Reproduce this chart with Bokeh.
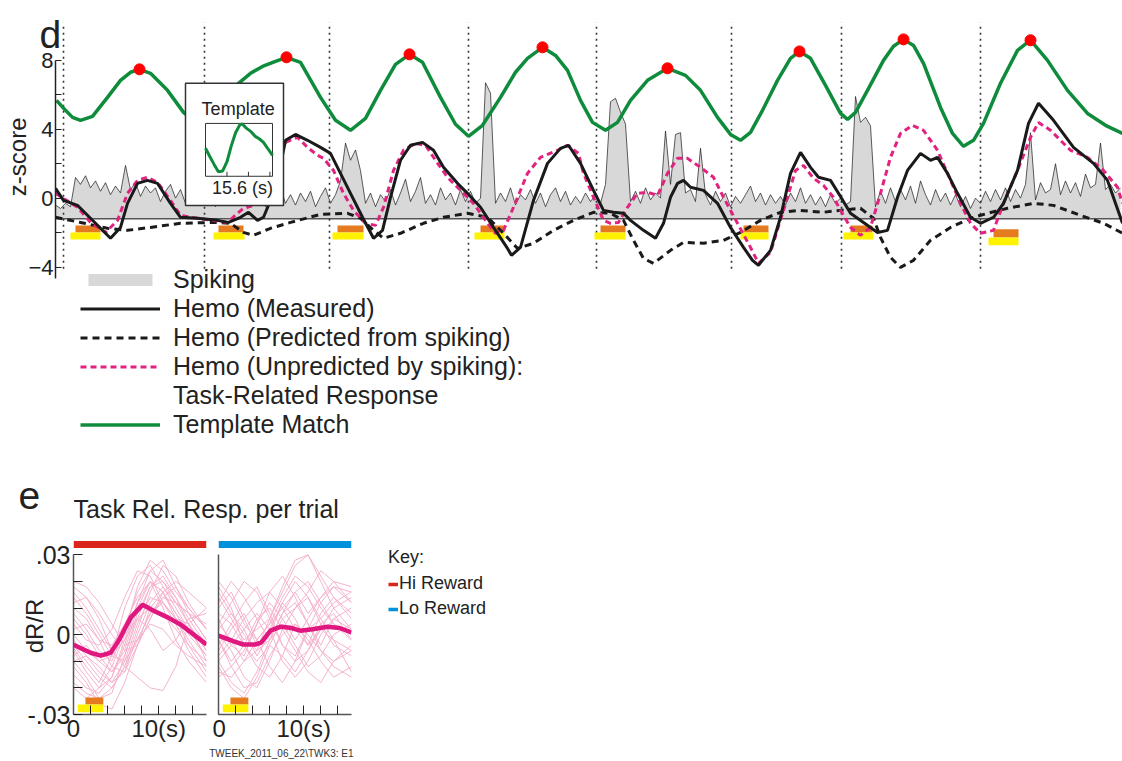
from bokeh.plotting import figure
from bokeh.models import Range1d, FixedTicker, Legend, LegendItem, Label, Title
from bokeh.layouts import column, row
from bokeh.core.properties import value
from bokeh.embed import file_html
from bokeh.resources import INLINE

FONT = "Liberation Sans"
INK = "#222222"

# ---------------- panel d data (time in s, z-score) ----------------
spike_baseline = -1.2
spike_dt = 0.5
spike_z = [
    -0.4, -0.6, -0.3, -0.5, 1.2, 0.8, 1.3, 0.6, 1.0, 0.4,
    0.9, 0.2, 0.7, 0.3, 1.9, 0.5, 0.9, 0.1, 0.7, 0.3,
    0.6, -0.2, 0.4, 0.8, 0.0, 0.5, -0.3, 0.2, -0.4, 0.1,
    -0.3, 0.3, -0.5, 0.2, -0.2, 0.4, -0.4, 0.1, -0.3, 0.5,
    -0.2, 0.3, -0.5, 0.4, -0.1, 0.6, -0.3, 0.2, -0.4, 0.3,
    -0.2, 0.4, -0.5, 0.1, 0.6, -0.3, 0.2, 1.0, 3.2, 2.2,
    2.8, 1.6, -0.3, 0.3, -0.5, 0.2, -0.2, 0.5, -0.4, 0.3,
    1.1, -0.2, 0.4, 1.2, -0.3, 0.2, -0.4, 0.6, -0.1, 0.3,
    -0.4, 0.5, -0.2, 0.4, -0.3, 0.0, 6.7, 6.1, -0.3, 0.3,
    -0.2, 0.6, -0.4, 0.2, -0.1, 0.5, -0.3, 0.3, -0.5, 0.2,
    0.6, -0.2, 0.4, -0.4, 0.1, -0.3, 0.3, -0.2, 0.2, -0.3,
    0.8, 5.6, 5.8, 5.0, 4.3, -0.2, 0.4, -0.3, 0.6, -0.1,
    0.3, 0.0, 3.9, 0.8, 3.7, 3.8, 0.3, 0.5, -0.2, 2.9,
    0.2, -0.4, 0.4, -0.2, 0.3, -0.5, 0.1, -0.3, 0.2, 0.7,
    -0.2, 0.3, -0.4, 0.2, -0.3, 0.1, -0.4, 0.3, -0.2, 0.6,
    -0.3, 0.2, -0.4, 0.1, -0.5, 0.2, -0.3, 0.0, -0.4, -0.2,
    5.9, 4.4, 4.7, 4.2, -0.5, 0.4, -0.3, 0.6, -0.2, 0.5,
    -0.1, 0.7, -0.3, 1.0, 0.2, -0.4, 0.5, -0.2, 0.3, -0.4,
    0.2, -0.5, 0.1, -0.6, 0.0, -0.3, 0.4, -0.2, 0.5, -0.1,
    0.6, -0.2, 0.5, 0.0, 0.8, 3.8, -0.1, 0.9, 0.3, 0.5,
    2.0, 0.2, 1.0, 0.3, 0.9, 0.1, 1.4, 0.6, 0.8, 3.2,
    0.5, 0.8, 0.3, 0.6,
]
spike_t = [i * spike_dt for i in range(len(spike_z))]

hemo_t = [0.0, 0.8, 2.2, 3.5, 4.5, 5.5, 6.5, 7.2, 8.2, 9.2, 10.2, 11.5, 12.5, 14.2, 16.2,
          17.3, 18.5, 19.3, 20.2, 20.8, 21.5, 22.3, 23.0, 24.0, 25.2, 26.5, 27.5, 28.5, 29.5,
          30.7, 31.8, 32.7, 33.5, 34.5, 35.5, 36.7, 37.8, 38.8, 40.2, 41.2, 42.5, 43.8, 45.2,
          45.6, 46.5, 47.8, 49.2, 50.5, 51.3, 52.5, 53.8, 54.8, 55.8, 56.8, 57.5, 58.8, 60.0,
          60.8, 61.5, 62.2, 62.8, 63.5, 64.8, 66.2, 67.5, 68.8, 69.7, 70.3, 71.5, 72.5, 73.5,
          74.5, 75.5, 76.3, 77.5, 78.5, 79.5, 80.8, 82.2, 83.2, 84.2, 85.2, 86.5, 87.5, 88.2,
          89.2, 90.2, 91.5, 92.5, 93.8, 94.8, 96.2, 97.3, 98.3, 99.8, 101.8, 103.8, 105.2, 106.7]
hemo_z = [0.57, -0.13, -0.42, -1.17, -1.75, -2.33, -1.70, -0.30, 0.86, 1.03, 0.86, -0.30, -1.11,
          -1.17, -1.29, -1.41, -1.11, -0.82, -1.29, -1.11, -0.13, 1.32, 3.36, 3.70, 3.36, 2.95,
          2.60, 1.44, 0.28, -1.11, -2.33, -1.87, 0.05, 2.20, 3.07, 3.24, 2.78, 1.79, 0.86, 0.28,
          -0.53, -1.70, -2.92, -3.32, -2.86, -0.13, 2.02, 2.89, 3.07, 2.02, 0.45, -0.71, -0.82,
          -0.88, -1.29, -1.87, -2.33, -1.46, 0.05, 0.86, 1.03, 0.63, 0.45, -0.30, -1.70, -2.86,
          -3.61, -3.90, -3.03, -1.11, 1.44, 2.66, 1.79, 1.21, 1.03, 0.10, -0.88, -1.41, -1.99,
          -1.87, 0.05, 1.61, 2.60, 2.20, 2.37, 1.44, 0.28, -1.11, -1.46, -1.11, -0.30, 1.61,
          4.34, 5.51, 4.52, 2.95, 2.02, 1.03, -1.46]

pred_t = [0.0, 2.5, 5.2, 7.2, 9.5, 12.5, 15.8, 17.5, 18.8, 19.8, 21.5, 23.5, 26.5, 29.2, 30.5,
          31.8, 32.8, 34.5, 36.8, 38.8, 41.2, 43.2, 44.8, 46.2, 47.8, 49.8, 51.8, 53.8, 55.5,
          56.8, 57.8, 58.8, 59.8, 61.5, 62.8, 64.8, 66.8, 68.5, 70.5, 72.5, 74.5, 76.8, 78.5,
          80.5, 81.8, 82.5, 83.5, 84.5, 85.8, 87.5, 89.5, 91.5, 93.2, 95.2, 97.8, 99.8, 102.5,
          104.8, 106.7]
pred_z = [-1.11, -1.41, -1.75, -1.87, -1.70, -1.46, -1.41, -1.46, -1.99, -2.16, -1.75, -1.41,
          -0.94, -0.88, -1.17, -1.87, -2.33, -2.04, -1.46, -1.11, -0.88, -1.11, -2.04, -2.92,
          -2.62, -1.87, -1.29, -0.82, -0.88, -1.29, -2.45, -3.50, -3.79, -3.03, -2.57, -2.62,
          -2.45, -1.99, -1.29, -0.82, -0.71, -0.82, -0.71, -0.59, -1.17, -2.28, -3.44, -4.02,
          -3.61, -2.45, -1.70, -1.17, -0.88, -0.59, -0.30, -0.42, -1.00, -1.46, -2.04]

unpred_t = [0.0, 2.2, 3.5, 5.0, 6.2, 7.2, 8.2, 9.2, 10.2, 11.5, 12.5, 14.2, 17.2, 18.2, 18.8,
            19.8, 20.8, 21.8, 23.0, 24.2, 25.2, 26.2, 26.8, 27.8, 28.8, 29.8, 31.0, 32.0, 32.8,
            33.8, 34.8, 36.0, 37.0, 38.0, 39.2, 40.5, 41.8, 43.2, 44.0, 44.8, 45.8, 47.2, 48.5,
            50.2, 51.2, 52.3, 52.8, 53.8, 54.8, 55.5, 56.3, 57.2, 58.2, 59.2, 60.2, 61.2, 62.2,
            63.2, 64.5, 65.8, 66.8, 68.2, 69.5, 70.3, 71.5, 72.8, 74.0, 74.8, 75.8, 76.8, 77.8,
            78.5, 79.5, 80.5, 81.5, 82.5, 83.5, 84.5, 85.7, 86.8, 88.2, 89.2, 90.5, 91.5, 92.5,
            93.8, 94.8, 96.2, 97.5, 98.3, 99.5, 101.5, 103.2, 104.8, 106.2, 106.7]
unpred_z = [0.28, -0.53, -1.41, -1.99, -1.29, 0.28, 1.03, 1.21, 0.92, -0.13, -1.00, -1.17, -1.41,
            -0.88, -0.59, -0.42, -0.01, 1.32, 3.24, 3.53, 2.95, 2.49, 2.31, 1.61, 0.28, -0.71,
            -1.46, -1.58, -0.53, 1.61, 2.78, 3.18, 3.07, 2.20, 1.21, 0.45, -0.30, -1.46, -2.04,
            -1.87, -0.53, 1.44, 2.37, 2.78, 3.07, 2.60, 1.44, 0.05, -1.29, -1.46, -1.41, -0.53,
            0.28, 0.34, 0.16, 1.44, 2.31, 2.31, 1.79, 1.21, 0.05, -1.46, -2.86, -3.79, -3.15,
            -0.71, 1.61, 1.90, 1.15, 0.74, 0.05, -0.71, -1.70, -2.16, -1.70, 0.28, 2.37, 3.76,
            4.23, 3.94, 2.78, 1.44, -0.30, -1.46, -2.04, -1.87, -0.30, 1.61, 3.53, 4.40, 3.94,
            2.78, 2.37, 1.61, 0.63, -0.30]

match_t = [0.1, 1.0, 1.7, 2.5, 3.7, 5.2, 6.5, 7.5, 8.4, 9.5, 11.2, 12.8, 14.0, 15.0, 16.0, 17.1,
           18.3, 19.5, 20.7, 22.0, 23.1, 24.5, 26.5, 28.0, 29.5, 31.0, 32.5, 34.0, 35.4, 36.7,
           38.5, 40.0, 41.3, 42.7, 44.5, 46.0, 47.2, 48.7, 50.0, 51.2, 52.5, 53.7, 55.0, 56.2,
           57.5, 59.2, 61.2, 63.0, 64.5, 66.2, 67.5, 68.5, 69.5, 70.7, 72.2, 73.5, 74.4, 75.5,
           77.0, 78.5, 79.2, 80.0, 81.2, 82.8, 83.8, 84.8, 85.8, 86.8, 88.5, 89.7, 90.8, 91.8,
           92.8, 94.5, 96.2, 97.5, 99.2, 101.2, 103.2, 105.0, 106.7]
match_z = [5.68, 5.10, 4.69, 4.52, 4.75, 5.85, 6.84, 7.31, 7.48, 7.25, 6.26, 4.98, 4.40, 4.23,
           4.63, 5.68, 6.67, 7.25, 7.65, 7.94, 8.18, 7.89, 5.85, 4.52, 3.94, 4.63, 6.26, 7.77,
           8.35, 7.89, 5.85, 4.29, 3.59, 4.23, 5.85, 7.31, 8.12, 8.76, 8.29, 7.42, 5.68, 4.40,
           3.94, 4.40, 5.68, 6.84, 7.54, 7.13, 6.26, 4.69, 3.70, 3.36, 3.82, 5.10, 6.84, 8.12,
           8.52, 8.12, 6.55, 4.92, 4.57, 4.98, 6.26, 8.00, 8.82, 9.22, 8.87, 7.83, 5.27, 3.76,
           3.01, 3.36, 4.34, 6.67, 8.58, 9.17, 8.00, 6.26, 4.92, 4.23, 3.76]

peak_t = [8.4, 23.1, 35.4, 48.7, 61.2, 74.4, 84.8, 97.5]
peak_z = [7.48, 8.18, 8.35, 8.76, 7.54, 8.52, 9.22, 9.17]

trial_t = [0.8, 14.9, 27.4, 41.3, 54.1, 67.6, 78.6, 92.5]

cue_left = [2.0, 16.3, 28.2, 42.5, 54.5, 68.8, 79.5, 93.8]
cue_right = [4.5, 18.8, 30.8, 44.9, 57.0, 71.3, 81.7, 96.3]
cue_bottom = [-2.0, -2.0, -2.0, -2.0, -2.0, -2.0, -2.0, -2.28]
cue_top = [-1.59, -1.59, -1.59, -1.59, -1.59, -1.59, -1.59, -1.81]
task_left = [1.5, 15.8, 27.7, 41.9, 53.9, 68.5, 78.8, 93.3]
task_right = [4.5, 18.9, 30.8, 44.9, 57.0, 71.3, 81.8, 96.3]
task_bottom = [-2.4, -2.4, -2.4, -2.4, -2.4, -2.4, -2.4, -2.74]
task_top = [-2.0, -2.0, -2.0, -2.0, -2.0, -2.0, -2.0, -2.28]

# template (inset), 15.6 s long, arbitrary units
tmpl_t = [0.0, 1.0, 2.0, 3.0, 4.0, 5.0, 6.0, 7.0, 8.0, 8.6, 9.5, 10.5, 11.5, 12.5, 13.5, 14.5, 15.6]
tmpl_v = [0.06, -0.25, -0.55, -0.83, -0.80, -0.45, 0.15, 0.65, 0.95, 0.98, 0.82, 0.70, 0.52,
          0.42, 0.28, 0.05, -0.21]
tmpl_ticks = [5, 10, 15]

# ---------------- panel e data (time in s, dR/R) ----------------
e_t = [0, 1.5, 3, 4.5, 6, 7.5, 9, 10.5, 12, 13.5, 15.6]
hi_trials = [
    [-0.005, -0.012, -0.018, -0.008, 0.010, 0.022, 0.026, 0.018, 0.010, 0.002, -0.008],
    [0.008, 0.002, -0.006, -0.010, 0.002, 0.016, 0.024, 0.020, 0.012, 0.008, -0.002],
    [-0.015, -0.020, -0.022, -0.016, -0.002, 0.012, 0.020, 0.016, 0.006, -0.004, -0.014],
    [0.020, 0.018, 0.012, 0.004, -0.004, -0.002, 0.008, 0.014, 0.018, 0.010, 0.002],
    [-0.002, -0.008, -0.014, -0.018, -0.010, 0.004, 0.014, 0.012, 0.006, 0.004, -0.006],
    [0.012, 0.014, 0.006, -0.006, -0.012, -0.016, -0.020, -0.021, -0.012, 0.004, 0.010],
    [-0.010, -0.016, -0.024, -0.022, -0.008, 0.008, 0.018, 0.022, 0.014, 0.006, -0.004],
    [0.004, -0.002, -0.004, 0.002, 0.014, 0.024, 0.022, 0.012, 0.004, -0.006, -0.016],
    [-0.020, -0.024, -0.020, -0.012, 0.000, 0.006, 0.002, -0.006, -0.002, 0.006, 0.008],
    [0.016, 0.010, 0.002, -0.006, 0.000, 0.018, 0.028, 0.024, 0.016, 0.010, 0.002],
    [0.000, -0.006, -0.010, -0.008, -0.002, 0.006, 0.010, 0.008, 0.002, -0.004, -0.010],
    [-0.008, -0.004, -0.010, -0.014, -0.006, 0.010, 0.020, 0.010, -0.002, -0.010, -0.018],
    [0.010, 0.006, -0.002, -0.012, -0.014, -0.004, 0.006, 0.014, 0.012, 0.008, 0.004],
    [-0.012, -0.018, -0.026, -0.028, -0.018, -0.004, 0.010, 0.016, 0.008, 0.000, -0.008],
    [0.018, 0.014, 0.008, 0.000, -0.006, -0.004, 0.006, 0.016, 0.020, 0.016, 0.010],
    [-0.004, -0.010, -0.016, -0.020, -0.012, 0.002, 0.016, 0.026, 0.022, 0.012, 0.002],
    [0.006, 0.000, -0.008, -0.014, -0.008, 0.006, 0.018, 0.020, 0.014, 0.004, -0.010],
    [-0.018, -0.022, -0.024, -0.020, -0.012, -0.002, 0.008, 0.012, 0.006, -0.002, -0.012],
    [0.002, 0.004, -0.002, -0.004, 0.004, 0.014, 0.020, 0.016, 0.008, 0.002, -0.004],
    [-0.006, -0.014, -0.020, -0.016, -0.004, 0.012, 0.024, 0.028, 0.018, 0.008, -0.002],
    [0.014, 0.008, 0.000, -0.008, -0.010, -0.002, 0.004, 0.002, -0.004, -0.008, -0.012],
    [-0.010, -0.008, -0.012, -0.018, -0.014, 0.000, 0.012, 0.018, 0.012, 0.004, -0.006],
]
lo_trials = [
    [0.010, 0.016, 0.006, -0.004, 0.002, 0.012, 0.020, 0.014, 0.006, 0.012, 0.016],
    [-0.010, -0.018, -0.022, -0.014, -0.002, 0.004, -0.004, -0.012, -0.008, 0.000, 0.004],
    [0.004, -0.002, -0.010, -0.006, 0.006, 0.016, 0.026, 0.030, 0.020, 0.010, 0.002],
    [-0.004, 0.004, 0.012, 0.018, 0.008, -0.004, -0.010, -0.006, 0.004, 0.008, -0.002],
    [0.018, 0.010, -0.004, -0.012, -0.016, -0.008, 0.004, 0.000, -0.006, -0.012, -0.016],
    [-0.016, -0.012, -0.006, 0.004, 0.012, 0.006, -0.002, 0.006, 0.014, 0.018, 0.012],
    [0.000, -0.006, -0.016, -0.020, -0.010, 0.002, 0.010, 0.014, 0.004, -0.004, -0.008],
    [0.012, 0.020, 0.014, 0.006, -0.002, 0.008, 0.016, 0.008, 0.014, 0.020, 0.018],
    [-0.006, 0.002, 0.008, -0.002, -0.012, -0.018, -0.010, 0.002, 0.006, -0.002, -0.014],
    [0.006, -0.004, -0.008, 0.004, 0.016, 0.022, 0.014, 0.004, -0.004, 0.006, 0.010],
    [-0.012, -0.020, -0.024, -0.016, -0.004, -0.008, -0.014, -0.006, 0.002, -0.002, -0.006],
    [0.002, 0.008, 0.002, -0.008, 0.000, 0.012, 0.006, -0.004, 0.008, 0.014, 0.006],
    [-0.002, -0.010, -0.004, 0.006, 0.010, 0.002, -0.006, -0.014, -0.018, -0.010, -0.004],
    [0.014, 0.006, -0.002, 0.002, 0.006, 0.018, 0.028, 0.030, 0.022, 0.014, 0.008],
    [-0.008, -0.002, 0.006, 0.012, 0.016, 0.010, 0.002, -0.004, 0.002, 0.010, 0.014],
    [0.016, 0.008, 0.000, -0.006, -0.002, 0.008, 0.012, 0.004, -0.006, -0.010, -0.006],
    [-0.014, -0.016, -0.010, -0.002, 0.004, 0.010, 0.016, 0.020, 0.012, 0.004, 0.000],
    [0.004, 0.012, 0.020, 0.016, 0.006, -0.004, -0.008, 0.002, 0.012, 0.018, 0.016],
    [-0.002, -0.012, -0.020, -0.018, -0.008, 0.000, 0.004, -0.002, -0.010, -0.016, -0.012],
    [0.008, 0.004, -0.004, -0.010, -0.004, 0.006, 0.010, 0.016, 0.024, 0.020, 0.012],
    [-0.010, -0.004, 0.002, 0.008, 0.002, -0.010, -0.016, -0.010, 0.000, 0.006, 0.002],
    [0.020, 0.014, 0.004, -0.002, 0.004, 0.014, 0.022, 0.018, 0.010, 0.004, -0.002],
]
hi_mean_t = [0, 2.0, 3.2, 4.35, 5.3, 6.7, 8.1, 9.4, 11.1, 12.6, 14.1, 15.6]
hi_mean_v = [-0.0038, -0.0068, -0.0079, -0.0068, -0.0022, 0.0064, 0.0112, 0.0090, 0.0064,
             0.0037, 0.0, -0.0037]
lo_mean_t = [0, 1.8, 2.9, 4.3, 5.0, 6.1, 7.3, 8.4, 9.6, 11.0, 12.8, 14.2, 15.6]
lo_mean_v = [-0.0004, -0.0025, -0.0037, -0.0037, -0.0030, 0.0015, 0.0030, 0.0026, 0.0015,
             0.0020, 0.0030, 0.0025, 0.0008]
e_cue = (1.4, 3.5)
e_task = (0.5, 3.5)

# ---------------- styles ----------------
GREEN = "#0E8C3C"
PINK = "#E2227F"
BLACK = "#1A1A1A"
ORANGE = "#E47B1E"
YELLOW = "#FFF200"
RED_BAR = "#DA251D"
BLUE_BAR = "#0091DA"
SPIKE_FILL = "#D8D8D8"

# ---------------- panel d figure (frame also holds its legend) ----------------
X_RANGE = (0.0, 106.7)
Y_RANGE = (-14.19, 10.2)
TRIAL_LINE_BOTTOM = -4.1
pd_ = figure(frame_width=1067, frame_height=420, x_range=Range1d(*X_RANGE),
             y_range=Range1d(*Y_RANGE), x_axis_type=None, output_backend="svg",
             toolbar_location=None, title=None, min_border_left=55, min_border_right=0,
             min_border_top=22, min_border_bottom=0)
pd_.frame_align = False
pd_.outline_line_color = None
pd_.grid.visible = False

r_spk = pd_.varea(x=spike_t, y1=spike_baseline, y2=spike_z, fill_color=SPIKE_FILL)
pd_.line(spike_t, spike_z, line_color=BLACK, line_width=0.7)
pd_.segment(x0=X_RANGE[0], y0=spike_baseline, x1=X_RANGE[1], y1=spike_baseline,
            line_color="#555555", line_width=1.6)
pd_.segment(x0=trial_t, y0=TRIAL_LINE_BOTTOM, x1=trial_t, y1=Y_RANGE[1], line_color="#333333",
            line_width=1.6, line_dash="2 4")
pd_.quad(left=cue_left, right=cue_right, bottom=cue_bottom, top=cue_top,
         fill_color=ORANGE, line_color=None)
pd_.quad(left=task_left, right=task_right, bottom=task_bottom, top=task_top,
         fill_color=YELLOW, line_color=None)
r_pred = pd_.line(pred_t, pred_z, line_color=BLACK, line_width=3, line_dash="7 5")
r_unp = pd_.line(unpred_t, unpred_z, line_color=PINK, line_width=3, line_dash="6 4")
r_hemo = pd_.line(hemo_t, hemo_z, line_color=BLACK, line_width=3)
r_match = pd_.line(match_t, match_z, line_color=GREEN, line_width=3.5)
pd_.scatter(peak_t, peak_z, size=11, color="#FF0000")
r_blank = pd_.line(x=[], y=[], line_alpha=0)

# inset (template)
INSET_OUT = (13.0, 22.8, -0.42, 6.67)       # outer box in main coords
INSET_T = (15.0, 21.7)                      # inner box horizontal extent in main coords
INSET_Z = (1.27, 4.34)                      # inner box vertical extent in main coords
T_SPAN = (tmpl_t[0], tmpl_t[-1])
V_SPAN = (-1.0, 1.0)
ax = (INSET_T[1] - INSET_T[0]) / (T_SPAN[1] - T_SPAN[0])
ay = (INSET_Z[1] - INSET_Z[0]) / (V_SPAN[1] - V_SPAN[0])
pd_.extra_x_ranges = {"ix": Range1d(T_SPAN[0] + (X_RANGE[0] - INSET_T[0]) / ax,
                                    T_SPAN[0] + (X_RANGE[1] - INSET_T[0]) / ax)}
pd_.extra_y_ranges = {"iy": Range1d(V_SPAN[0] + (Y_RANGE[0] - INSET_Z[0]) / ay,
                                    V_SPAN[0] + (Y_RANGE[1] - INSET_Z[0]) / ay)}
pd_.quad(left=INSET_OUT[0], right=INSET_OUT[1], bottom=INSET_OUT[2], top=INSET_OUT[3],
         fill_color="white", line_color="#333333", line_width=1.5)
pd_.quad(left=T_SPAN[0], right=T_SPAN[1], bottom=V_SPAN[0], top=V_SPAN[1],
         fill_color=None, line_color="#333333", line_width=1,
         x_range_name="ix", y_range_name="iy")
pd_.segment(x0=tmpl_ticks, y0=V_SPAN[0], x1=tmpl_ticks, y1=V_SPAN[0] + 0.17,
            line_color="#333333", line_width=1, x_range_name="ix", y_range_name="iy")
pd_.line(tmpl_t, tmpl_v, line_color=GREEN, line_width=3, x_range_name="ix", y_range_name="iy")
pd_.text(x=[7.6], y=[1.53], text=["Template"], text_font=value(FONT), text_font_size="18px",
         text_align="center", text_baseline="middle", text_color=INK,
         x_range_name="ix", y_range_name="iy")
pd_.text(x=[8.6], y=[-1.45], text=["15.6 (s)"], text_font=value(FONT), text_font_size="18px",
         text_align="center", text_baseline="middle", text_color=INK,
         x_range_name="ix", y_range_name="iy")

ya = pd_.yaxis[0]
ya.ticker = FixedTicker(ticks=[-4, 0, 4, 8], minor_ticks=[-2, 2, 6])
ya.bounds = (-4.67, 8)
ya.axis_line_color = INK
ya.axis_line_width = 1.5
ya.major_tick_in = 6
ya.major_tick_out = 0
ya.minor_tick_in = 6
ya.minor_tick_out = 0
ya.major_tick_line_color = INK
ya.minor_tick_line_color = INK
ya.major_label_text_font = FONT
ya.major_label_text_font_size = "22px"
ya.major_label_text_color = INK
ya.major_label_standoff = 2

# y-axis caption, placed next to the axis' extent rather than the whole frame
pd_.add_layout(Title(text="z-score", align="right", vertical_align="bottom", offset=95,
                     standoff=-10, text_font=FONT, text_font_size="24px",
                     text_font_style="normal", text_color=INK), "left")
# panel letter, hanging down from the top border over the axis corner
pd_.add_layout(Title(text="d", align="left", vertical_align="bottom", offset=-16,
                     standoff=-67, text_font=FONT, text_font_size="39px",
                     text_font_style="normal", text_color=INK), "above")

leg_d = Legend(items=[
    LegendItem(label="Spiking", renderers=[r_spk]),
    LegendItem(label="Hemo (Measured)", renderers=[r_hemo]),
    LegendItem(label="Hemo (Predicted from spiking)", renderers=[r_pred]),
    LegendItem(label="Hemo (Unpredicted by spiking):", renderers=[r_unp]),
    LegendItem(label="Task-Related Response", renderers=[r_blank]),
    LegendItem(label="Template Match", renderers=[r_match]),
], location=(25, 3))
leg_d.glyph_width = 80
leg_d.glyph_height = 15
leg_d.label_standoff = 13
leg_d.spacing = 0
leg_d.padding = 0
leg_d.margin = 0
leg_d.background_fill_alpha = 0
leg_d.border_line_alpha = 0
leg_d.label_text_font = FONT
leg_d.label_text_font_size = "25px"
leg_d.label_text_color = INK
pd_.add_layout(leg_d)

# ---------------- caption strip: letter e + title of e ----------------
CAP_H = 92
cap = figure(frame_width=1122, frame_height=CAP_H, x_range=Range1d(0, 1122),
             y_range=Range1d(CAP_H, 0), x_axis_type=None, y_axis_type=None,
             output_backend="svg", toolbar_location=None, title=None,
             min_border_left=0, min_border_right=0, min_border_top=0, min_border_bottom=0)
cap.frame_align = False
cap.outline_line_color = None
cap.add_layout(Label(x=18, y=53, text="e", text_font=FONT, text_font_size="39px",
                     text_color=INK, text_align="left", text_baseline="alphabetic"))
cap.add_layout(Label(x=73, y=66, text="Task Rel. Resp. per trial", text_font=FONT,
                     text_font_size="25px", text_color=INK, text_align="left",
                     text_baseline="alphabetic"))

# ---------------- panel e figures ----------------
E_X = (e_t[0], e_t[-1])
E_Y = (-0.03, 0.0365)
BAR = (0.0326, 0.0352)


def e_panel(left, right, trials, mean_t, mean_v, bar_color, labelled):
    p = figure(frame_width=133, frame_height=177, x_range=Range1d(*E_X),
               y_range=Range1d(*E_Y), output_backend="svg", toolbar_location=None,
               title=None, min_border_left=left, min_border_right=right, min_border_top=3,
               min_border_bottom=28)
    p.outline_line_color = None
    p.grid.visible = False
    p.multi_line(xs=[e_t] * len(trials), ys=trials, line_color="#F4B3CE", line_width=1)
    p.line(mean_t, mean_v, line_color="#E0177F", line_width=4.5)
    p.quad(left=E_X[0], right=E_X[1], bottom=BAR[0], top=BAR[1], fill_color=bar_color,
           line_color=None)
    p.quad(left=e_cue[0], right=e_cue[1], bottom=-0.0262, top=-0.0236, fill_color=ORANGE,
           line_color=None)
    p.quad(left=e_task[0], right=e_task[1], bottom=-0.0292, top=-0.0262, fill_color=YELLOW,
           line_color=None)
    xa = p.xaxis[0]
    xa.ticker = FixedTicker(ticks=[0, 10], minor_ticks=[2, 4, 6, 8, 12, 14])
    xa.major_label_overrides = {10: "10(s)"}
    xa.axis_line_color = "#555555"
    xa.axis_line_width = 1.5
    xa.major_tick_in = 9
    xa.major_tick_out = 0
    xa.minor_tick_in = 9
    xa.minor_tick_out = 0
    xa.major_tick_line_color = INK
    xa.minor_tick_line_color = INK
    xa.major_label_text_font = FONT
    xa.major_label_text_font_size = "24px"
    xa.major_label_text_color = INK
    xa.major_label_standoff = 0
    yax = p.yaxis[0]
    yax.bounds = (-0.03, 0.03)
    yax.axis_line_color = "#555555"
    yax.axis_line_width = 1.5
    if labelled:
        yax.ticker = FixedTicker(ticks=[-0.03, 0, 0.03], minor_ticks=[-0.02, -0.01, 0.01, 0.02])
        yax.major_label_overrides = {0.03: ".03", 0: "0", -0.03: "-.03"}
        yax.major_tick_in = 9
        yax.major_tick_out = 0
        yax.minor_tick_in = 9
        yax.minor_tick_out = 0
        yax.major_tick_line_color = INK
        yax.minor_tick_line_color = INK
        yax.major_label_text_font = FONT
        yax.major_label_text_font_size = "25px"
        yax.major_label_text_color = INK
        yax.major_label_standoff = 3
        yax.axis_label = "dR/R"
        yax.axis_label_text_font = FONT
        yax.axis_label_text_font_size = "24px"
        yax.axis_label_text_font_style = "normal"
        yax.axis_label_text_color = INK
        yax.axis_label_standoff = -24
    else:
        yax.ticker = FixedTicker(ticks=[])
    return p


pe1 = e_panel(73, 6, hi_trials, hi_mean_t, hi_mean_v, RED_BAR, True)
pe2 = e_panel(6, 10, lo_trials, lo_mean_t, lo_mean_v, BLUE_BAR, False)

key = figure(frame_width=761, frame_height=208, x_range=Range1d(0, 1), y_range=Range1d(0, 1),
             x_axis_type=None, y_axis_type=None, output_backend="svg", toolbar_location=None,
             title=None, min_border_left=0, min_border_right=0, min_border_top=0,
             min_border_bottom=0)
key.frame_align = False
key.outline_line_color = None
r_hi = key.line(x=[-3, -2], y=[-3, -3], line_color=RED_BAR, line_width=3.5)
r_lo = key.line(x=[-3, -2], y=[-3, -3], line_color=BLUE_BAR, line_width=3.5)
leg_k = Legend(items=[LegendItem(label="Hi Reward", renderers=[r_hi]),
                      LegendItem(label="Lo Reward", renderers=[r_lo])],
               location=(27, 123), title="Key:")
leg_k.glyph_width = 10
leg_k.glyph_height = 20
leg_k.label_standoff = 1
leg_k.spacing = 4
leg_k.padding = 0
leg_k.margin = 0
leg_k.title_standoff = 5
leg_k.background_fill_alpha = 0
leg_k.border_line_alpha = 0
leg_k.label_text_font = FONT
leg_k.label_text_font_size = "18px"
leg_k.label_text_color = INK
leg_k.title_text_font = FONT
leg_k.title_text_font_size = "18px"
leg_k.title_text_font_style = "normal"
leg_k.title_text_color = INK
key.add_layout(leg_k)

# ---------------- footer strip ----------------
foot = figure(frame_width=1122, frame_height=19, x_range=Range1d(0, 1122),
              y_range=Range1d(19, 0), x_axis_type=None, y_axis_type=None,
              output_backend="svg", toolbar_location=None, title=None,
              min_border_left=0, min_border_right=0, min_border_top=0, min_border_bottom=0)
foot.frame_align = False
foot.outline_line_color = None
foot.add_layout(Label(x=353, y=9, text="TWEEK_2011_06_22\\TWK3: E1", text_font=FONT,
                      text_font_size="10px", text_color="#333333", text_align="right",
                      text_baseline="alphabetic"))

layout = column(pd_, cap, row(pe1, pe2, key), foot)
open("out.html", "w").write(file_html(layout, INLINE))
